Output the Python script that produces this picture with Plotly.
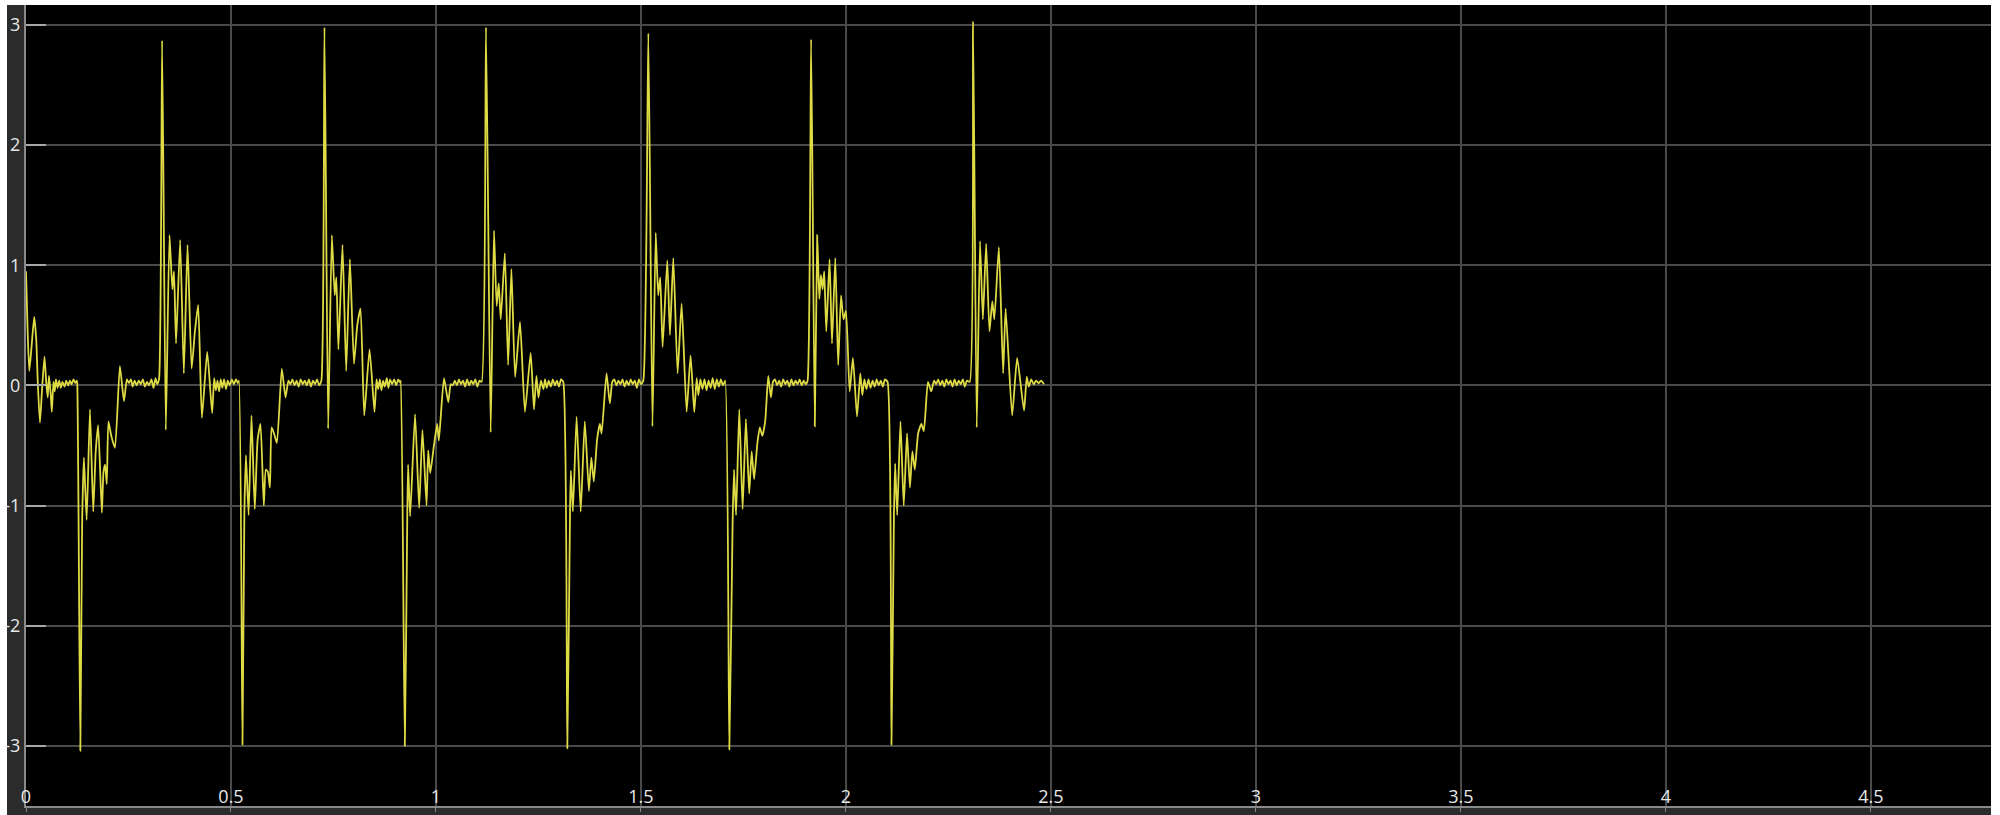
import plotly.graph_objects as go

# Scope trace: time (s) and signal value, one list of (t, v) vertices per section
start_up = [
    (0.000, 0.95), (0.004, 0.45), (0.008, 0.12), (0.013, 0.30), (0.020, 0.57), (0.025, 0.38),
    (0.029, 0.00), (0.034, -0.31), (0.039, -0.04), (0.045, 0.24), (0.049, 0.04), (0.053, -0.10),
    (0.056, 0.08), (0.060, -0.06), (0.063, -0.22), (0.067, 0.03), (0.070, -0.05), (0.073, 0.05),
    (0.077, -0.02), (0.081, 0.04), (0.085, -0.02), (0.089, 0.03), (0.094, -0.01), (0.098, 0.04),
    (0.103, 0.00), (0.107, 0.04), (0.111, 0.01), (0.116, 0.05), (0.120, 0.02), (0.124, 0.04),
]

cycle_1 = [
    (0.1250, 0.02), (0.1325, -3.04), (0.1370, -1.12), (0.1412, -0.60), (0.1480, -1.12), (0.1560, -0.20),
    (0.1640, -1.05), (0.1700, -0.55), (0.1760, -0.33), (0.1850, -1.06), (0.1890, -0.72), (0.1930, -0.66),
    (0.1970, -0.82), (0.2010, -0.30), (0.2080, -0.42), (0.2170, -0.52), (0.2290, 0.16), (0.2390, -0.13),
    (0.2460, 0.05), (0.2510, 0.02), (0.2560, 0.05), (0.2600, -0.01), (0.2650, 0.04), (0.2700, 0.00),
    (0.2750, 0.04), (0.2800, 0.01), (0.2850, 0.05), (0.2900, -0.01), (0.2950, 0.03), (0.3000, 0.00),
    (0.3060, 0.05), (0.3110, -0.02), (0.3160, 0.06), (0.3200, 0.01), (0.3245, 0.05),
    (0.3320, 2.87), (0.3410, -0.37), (0.3500, 1.25), (0.3570, 0.80), (0.3610, 0.95), (0.3660, 0.35),
    (0.3760, 1.21), (0.3850, 0.10), (0.3940, 1.17), (0.4040, 0.14), (0.4120, 0.45), (0.4200, 0.67),
    (0.4290, -0.27), (0.4420, 0.28), (0.4540, -0.23), (0.4590, 0.06), (0.4630, -0.04), (0.4670, 0.04),
    (0.4710, -0.05), (0.4750, 0.05), (0.4790, -0.02), (0.4830, 0.05), (0.4880, -0.03), (0.4920, 0.04),
    (0.4970, 0.00), (0.5020, 0.05), (0.5070, 0.01), (0.5120, 0.05), (0.5170, 0.02), (0.5195, 0.04),
]

cycle_2 = [
    (0.5280, -2.99), (0.5325, -1.10), (0.5365, -0.58), (0.5430, -1.08), (0.5500, -0.25), (0.5580, -1.03),
    (0.5650, -0.45), (0.5720, -0.32), (0.5800, -1.00), (0.5850, -0.70), (0.5900, -0.72), (0.5950, -0.85),
    (0.5990, -0.35), (0.6050, -0.40), (0.6120, -0.48), (0.6240, 0.14), (0.6330, -0.10), (0.6400, 0.04),
    (0.6450, 0.01), (0.6500, 0.05), (0.6550, 0.00), (0.6600, 0.04), (0.6650, -0.01), (0.6700, 0.05),
    (0.6750, 0.01), (0.6800, 0.04), (0.6850, 0.00), (0.6900, 0.05), (0.6950, -0.01), (0.7000, 0.04),
    (0.7050, 0.01), (0.7100, 0.05), (0.7150, 0.00), (0.7205, 0.04),
    (0.7280, 2.98), (0.7370, -0.36), (0.7460, 1.25), (0.7530, 0.75), (0.7570, 0.90), (0.7620, 0.30),
    (0.7720, 1.17), (0.7810, 0.12), (0.7900, 1.05), (0.8000, 0.18), (0.8080, 0.50), (0.8160, 0.64),
    (0.8250, -0.25), (0.8380, 0.30), (0.8500, -0.22), (0.8550, 0.05), (0.8590, -0.03), (0.8630, 0.05),
    (0.8670, -0.04), (0.8710, 0.04), (0.8750, -0.01), (0.8800, 0.06), (0.8840, -0.02), (0.8880, 0.05),
    (0.8930, 0.01), (0.8980, 0.05), (0.9030, 0.00), (0.9080, 0.05), (0.9130, 0.02), (0.9145, 0.04),
]

cycle_3 = [
    (0.9240, -3.00), (0.9300, -1.09), (0.9320, -0.66), (0.9370, -1.09), (0.9490, -0.24), (0.9590, -1.02),
    (0.9670, -0.37), (0.9770, -1.00), (0.9810, -0.54), (0.9860, -0.73), (0.9950, -0.50), (1.0030, -0.32),
    (1.0070, -0.46), (1.0195, 0.06), (1.0300, -0.14), (1.0360, 0.01), (1.0410, 0.00), (1.0460, 0.04),
    (1.0510, 0.00), (1.0560, 0.05), (1.0610, 0.01), (1.0660, 0.04), (1.0710, -0.01), (1.0760, 0.05),
    (1.0810, 0.00), (1.0860, 0.04), (1.0910, 0.01), (1.0960, 0.05), (1.1010, -0.01), (1.1060, 0.04),
    (1.1115, 0.03),
    (1.1220, 2.98), (1.1334, -0.39), (1.1415, 1.29), (1.1480, 0.66), (1.1530, 0.85), (1.1580, 0.55),
    (1.1680, 1.10), (1.1760, 0.17), (1.1840, 0.97), (1.1930, 0.07), (1.2050, 0.53), (1.2170, -0.22),
    (1.2310, 0.27), (1.2390, -0.20), (1.2450, 0.08), (1.2500, -0.10), (1.2560, 0.04), (1.2620, -0.03),
    (1.2660, 0.05), (1.2700, -0.02), (1.2750, 0.04), (1.2800, -0.01), (1.2850, 0.05), (1.2900, 0.00),
    (1.2950, 0.04), (1.3000, -0.01), (1.3050, 0.05), (1.3105, 0.03),
]

cycle_4 = [
    (1.3203, -3.02), (1.3270, -1.05), (1.3290, -0.71), (1.3340, -1.05), (1.3430, -0.26), (1.3530, -1.05),
    (1.3630, -0.30), (1.3730, -0.88), (1.3790, -0.60), (1.3850, -0.80), (1.3930, -0.45), (1.3998, -0.32),
    (1.4040, -0.40), (1.4160, 0.10), (1.4240, -0.15), (1.4300, 0.03), (1.4350, 0.05), (1.4400, 0.00),
    (1.4450, 0.04), (1.4500, 0.01), (1.4550, 0.05), (1.4600, -0.01), (1.4650, 0.04), (1.4700, 0.00),
    (1.4750, 0.05), (1.4800, 0.01), (1.4850, 0.04), (1.4900, -0.02), (1.4950, 0.05), (1.5000, 0.01),
    (1.5057, 0.04),
    (1.5180, 2.93), (1.5280, -0.34), (1.5360, 1.27), (1.5420, 0.75), (1.5470, 0.90), (1.5528, 0.32),
    (1.5642, 1.04), (1.5707, 0.42), (1.5789, 1.06), (1.5894, 0.10), (1.5992, 0.68), (1.6114, -0.22),
    (1.6210, 0.25), (1.6300, -0.22), (1.6360, 0.06), (1.6400, -0.08), (1.6450, 0.05), (1.6500, -0.03),
    (1.6550, 0.05), (1.6600, -0.04), (1.6650, 0.04), (1.6700, -0.02), (1.6750, 0.06), (1.6800, -0.03),
    (1.6850, 0.05), (1.6900, -0.01), (1.6950, 0.05), (1.7000, 0.00), (1.7055, 0.04),
]

cycle_5 = [
    (1.7155, -3.03), (1.7236, -1.13), (1.7270, -0.70), (1.7320, -1.08), (1.7398, -0.20), (1.7480, -1.03),
    (1.7560, -0.28), (1.7640, -0.90), (1.7700, -0.55), (1.7760, -0.78), (1.7840, -0.48), (1.7900, -0.35),
    (1.7960, -0.42), (1.8030, -0.30), (1.8105, 0.08), (1.8170, -0.10), (1.8220, 0.03), (1.8270, 0.05),
    (1.8320, 0.00), (1.8370, 0.04), (1.8420, -0.01), (1.8470, 0.05), (1.8520, 0.01), (1.8570, 0.04),
    (1.8620, -0.01), (1.8670, 0.05), (1.8720, 0.00), (1.8770, 0.04), (1.8820, 0.01), (1.8870, 0.05),
    (1.8920, 0.00), (1.8970, 0.04), (1.9020, 0.01), (1.9065, 0.04),
    (1.9150, 2.88), (1.9240, -0.34), (1.9300, 1.25), (1.9350, 0.72), (1.9390, 0.92), (1.9430, 0.80),
    (1.9470, 0.95), (1.9520, 0.45), (1.9600, 1.05), (1.9660, 0.35), (1.9740, 1.06), (1.9810, 0.17),
    (1.9880, 0.75), (1.9940, 0.55), (2.0000, 0.62), (2.0090, -0.05), (2.0170, 0.23), (2.0270, -0.26),
    (2.0350, 0.10), (2.0400, -0.08), (2.0450, 0.05), (2.0500, -0.03), (2.0550, 0.05), (2.0600, -0.02),
    (2.0650, 0.04), (2.0700, -0.01), (2.0750, 0.05), (2.0800, 0.00), (2.0850, 0.04), (2.0900, -0.01),
    (2.0950, 0.05), (2.1015, 0.03),
]

cycle_6 = [
    (2.1110, -2.99), (2.1170, -1.10), (2.1200, -0.65), (2.1250, -1.08), (2.1330, -0.30), (2.1410, -1.00),
    (2.1490, -0.40), (2.1560, -0.85), (2.1620, -0.55), (2.1680, -0.70), (2.1760, -0.40), (2.1840, -0.32),
    (2.1900, -0.38), (2.2000, 0.03), (2.2080, -0.05), (2.2150, 0.04), (2.2200, 0.01), (2.2250, 0.05),
    (2.2300, 0.00), (2.2350, 0.04), (2.2400, -0.01), (2.2450, 0.05), (2.2500, 0.01), (2.2550, 0.04),
    (2.2600, -0.01), (2.2650, 0.05), (2.2700, 0.00), (2.2750, 0.04), (2.2800, 0.01), (2.2850, 0.05),
    (2.2900, -0.01), (2.2950, 0.04), (2.3020, 0.03),
    (2.3100, 3.03), (2.3190, -0.35), (2.3270, 1.20), (2.3340, 0.55), (2.3420, 1.18), (2.3500, 0.45),
    (2.3570, 0.70), (2.3620, 0.55), (2.3730, 1.15), (2.3834, 0.10), (2.3895, 0.64), (2.4054, -0.25),
    (2.4176, 0.23), (2.4344, -0.21), (2.4410, 0.07), (2.4460, -0.01), (2.4520, 0.05), (2.4580, 0.01),
    (2.4640, 0.04), (2.4700, 0.02), (2.4760, 0.04), (2.4830, 0.01),
]

sections = [start_up, cycle_1, cycle_2, cycle_3, cycle_4, cycle_5, cycle_6]
time_s = [t for sec in sections for t, _ in sec]
signal = [v for sec in sections for _, v in sec]

y_ticks = [-3, -2, -1, 0, 1, 2, 3]
y_tick_text = ["-3", "-2", "-1", "0", "1", "2", "3"]
x_ticks = [0, 0.5, 1, 1.5, 2, 2.5, 3, 3.5, 4, 4.5]
x_tick_text = ["0", "0.5", "1", "1.5", "2", "2.5", "3", "3.5", "4", "4.5"]

W, H = 2000, 815
ML, MR, MT, MB = 26, 9, 5, 9
PW, PH = W - ML - MR, H - MT - MB

fig = go.Figure()
fig.add_trace(go.Scatter(
    x=time_s, y=signal, mode="lines",
    line=dict(color="#dedb45", width=1.8, shape="spline", smoothing=0.5),
    hoverinfo="skip", showlegend=False,
))

grey = "#2b2b2b"
shapes = [
    # label gutter on the left and strip under the x axis
    dict(type="rect", xref="paper", yref="paper", x0=(7 - ML) / PW, x1=0, y0=-MB / PH, y1=1,
         fillcolor=grey, line_width=0, layer="below"),
    dict(type="rect", xref="paper", yref="paper", x0=(7 - ML) / PW, x1=1, y0=-MB / PH, y1=0,
         fillcolor=grey, line_width=0, layer="below"),
]

font_family = "Open Sans, Noto Sans, DejaVu Sans, sans-serif"
fig.update_layout(
    width=W, height=H,
    margin=dict(l=ML, r=MR, t=MT, b=MB, pad=0),
    paper_bgcolor="#ffffff",
    plot_bgcolor="#000000",
    shapes=shapes,
    xaxis=dict(
        range=[0, 4.793], tickvals=x_ticks, ticktext=x_tick_text,
        showgrid=True, gridcolor="#4a4a4a", gridwidth=1.5, zeroline=False,
        showline=True, linecolor="#8a8a8a", linewidth=2,
        ticks="outside", ticklen=4, tickcolor="#8a8a8a",
        ticklabelposition="inside", ticklabeloverflow="allow",
        tickfont=dict(family=font_family, size=18, color="#e8e8e8"),
    ),
    yaxis=dict(
        range=[-3.5, 3.166], tickvals=y_ticks, ticktext=y_tick_text,
        showgrid=True, gridcolor="#4a4a4a", gridwidth=1.5, zeroline=False,
        showline=True, linecolor="#8a8a8a", linewidth=2,
        ticks="inside", ticklen=20, tickcolor="#a8a8a8", tickwidth=1.5,
        tickfont=dict(family=font_family, size=18, color="#e8e8e8"),
    ),
)

fig.write_html("out.html")
